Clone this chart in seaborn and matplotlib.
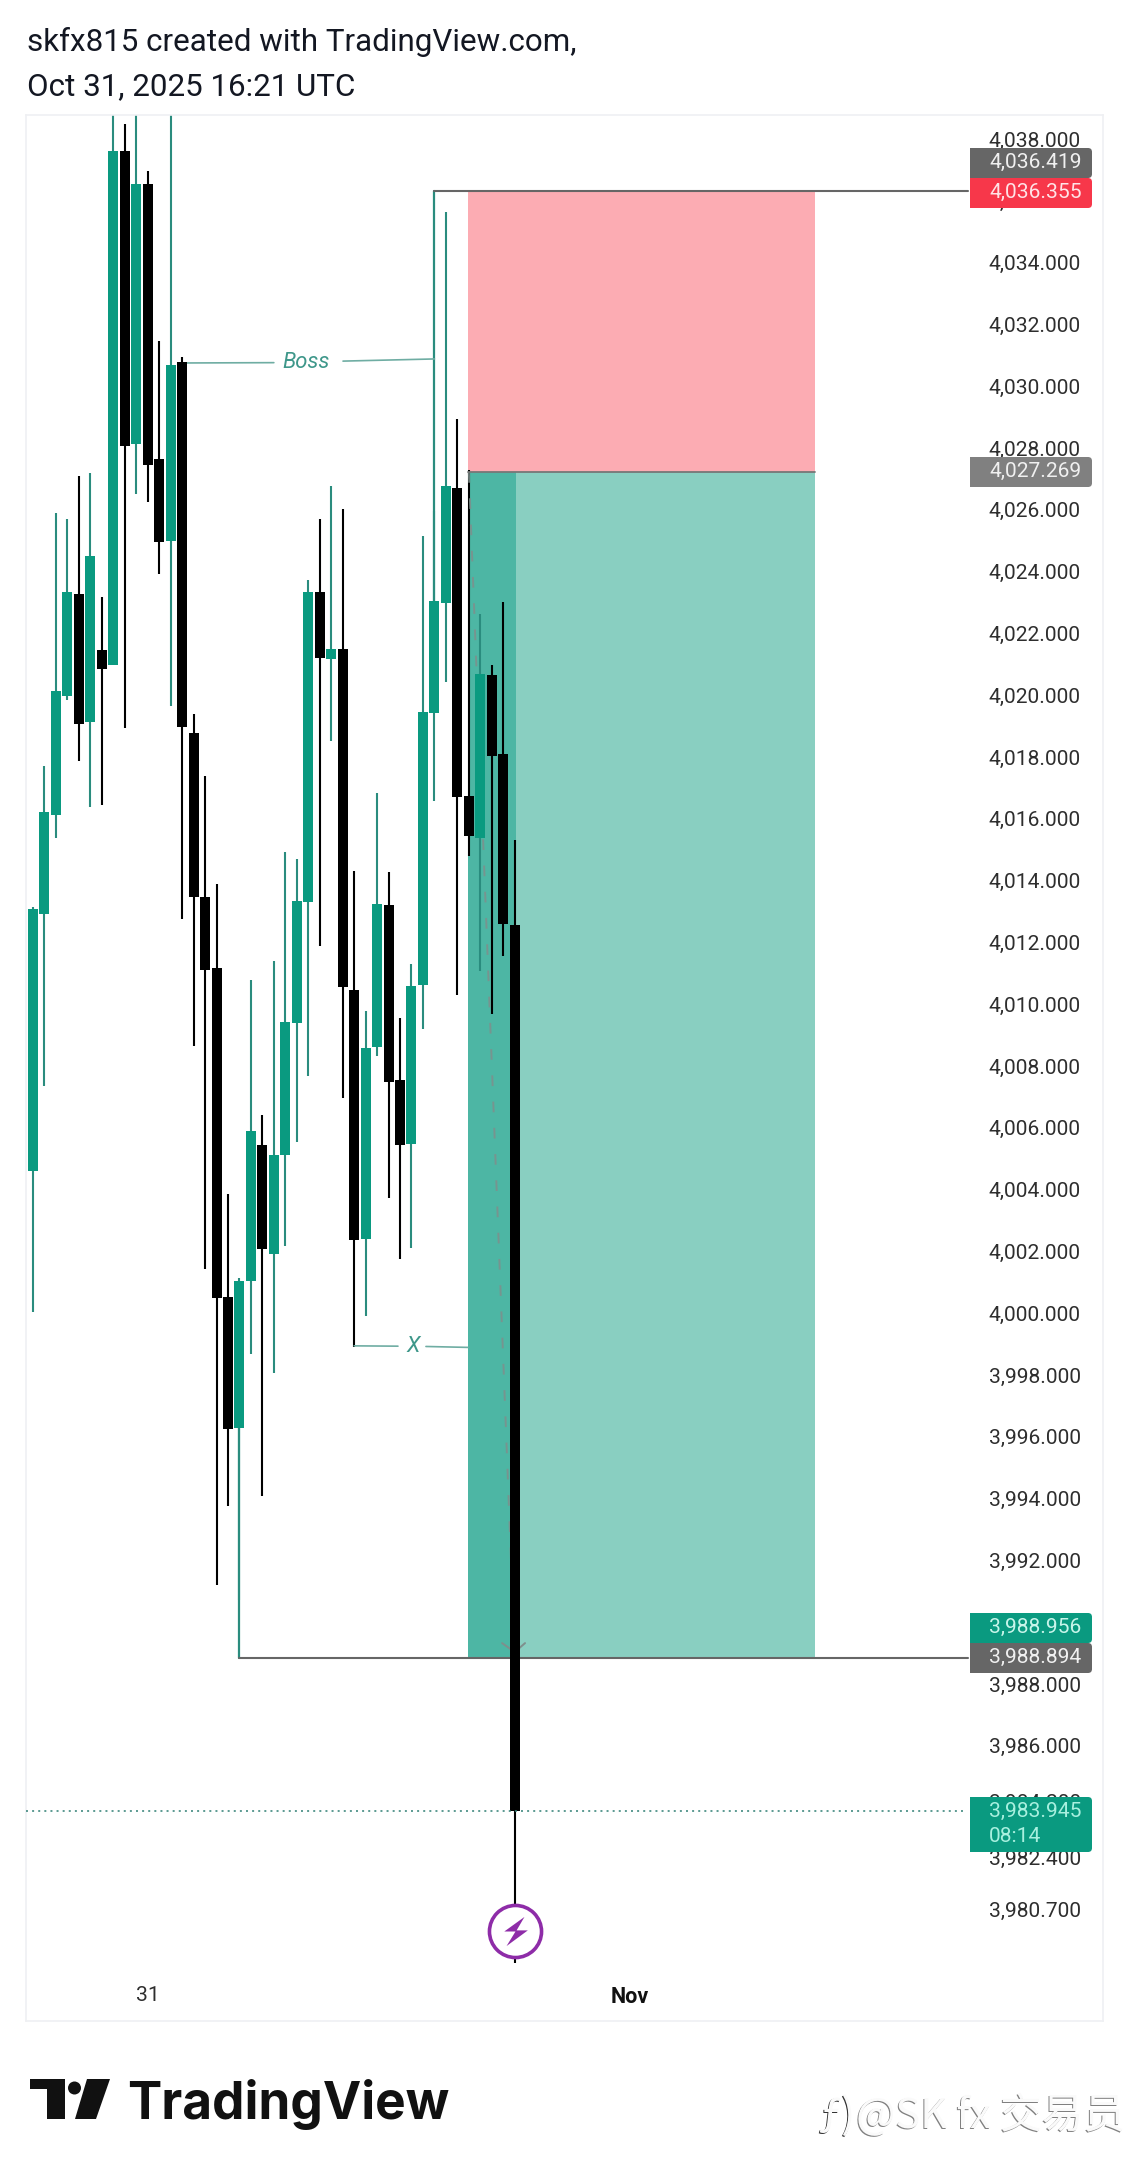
import matplotlib
matplotlib.use("Agg")
import matplotlib.pyplot as plt
import numpy as np
import pandas as pd
import seaborn as sns
from matplotlib.patches import PathPatch, Polygon, Circle
from matplotlib.path import Path
from matplotlib.transforms import Affine2D

# 43 candles of the 31 Oct session (top and bottom of body, high, low, direction)
body_top = [4013.13, 4016.27, 4020.18, 4023.39, 4023.32, 4024.55, 4021.51, 4037.66, 4037.66, 4036.59,
            4036.59, 4027.69, 4030.73, 4030.83, 4018.83, 4013.52, 4011.22, 4000.57, 4001.09, 4005.95,
            4005.49, 4005.17, 4009.47, 4013.39, 4023.39, 4023.39, 4021.54, 4021.54, 4010.51, 4008.63,
            4013.29, 4013.26, 4007.60, 4010.64, 4019.51, 4023.10, 4026.82, 4026.75, 4016.79, 4020.73,
            4020.70, 4018.15, 4012.61]
body_bottom = [4004.65, 4012.97, 4016.17, 4020.02, 4019.12, 4019.18, 4020.90, 4021.03, 4028.11, 4028.18,
               4027.50, 4025.01, 4025.04, 4019.02, 4013.52, 4011.16, 4000.54, 3996.30, 3996.33, 4001.09,
               4002.13, 4001.96, 4005.17, 4009.44, 4013.36, 4021.25, 4021.22, 4010.61, 4002.42, 4002.45,
               4008.66, 4007.53, 4005.49, 4005.52, 4010.67, 4019.47, 4023.03, 4016.75, 4015.49, 4015.43,
               4018.08, 4012.64, 3983.945]
highs = [4013.20, 4017.76, 4025.95, 4025.75, 4027.14, 4027.24, 4023.23, 4039.50, 4038.53, 4039.50,
         4037.01, 4031.51, 4039.50, 4030.99, 4019.44, 4017.43, 4013.94, 4003.91, 4001.18, 4010.83,
         4006.46, 4011.45, 4014.97, 4014.75, 4023.78, 4025.75, 4026.82, 4026.07, 4014.36, 4009.83,
         4016.88, 4014.33, 4009.60, 4011.35, 4025.20, 4026.00, 4035.69, 4028.99, 4027.34, 4022.68,
         4021.03, 4023.07, 4015.36]
lows = [4000.09, 4007.40, 4015.43, 4019.89, 4017.92, 4016.43, 4016.50, 4021.03, 4018.99, 4026.56,
        4026.30, 4023.97, 4019.70, 4012.81, 4008.70, 4001.48, 3991.25, 3993.81, 3990.77, 3998.73,
        3994.13, 3998.11, 4002.22, 4005.59, 4007.73, 4011.93, 4018.57, 4007.01, 3998.96, 3999.96,
        4008.37, 4003.78, 4001.80, 4002.16, 4009.25, 4016.63, 4020.48, 4010.35, 4014.84, 4011.12,
        4009.73, 4011.61, 3979.02]
rising = [1, 1, 1, 1, 0, 1, 0, 1, 0, 1, 0, 0, 1, 0, 0, 0, 0, 0, 1, 1, 0, 1, 1, 1, 1, 0,
          1, 0, 0, 1, 1, 0, 0, 1, 1, 1, 1, 0, 0, 1, 0, 0, 0]

# Price-axis and time-axis labels
y_tick_values = [4038, 4036, 4034, 4032, 4030, 4028, 4026, 4024, 4022, 4020, 4018, 4016, 4014, 4012,
                 4010, 4008, 4006, 4004, 4002, 4000, 3998, 3996, 3994, 3992, 3990, 3988, 3986,
                 3984.2, 3982.4, 3980.7]
x_tick_values = [10, 52]
x_tick_labels = ["31", "Nov"]

# Short-position tool and price levels
stop_price = 4036.355
entry_price = 4027.269
target_price = 3988.894
target_label_price = 3988.956
last_price = 3983.945
stop_marker_price = 4036.419
tool_start, tool_now, tool_end = 37.93, 42.11, 68.2
level_line_end = 81.5

GREEN = "#0A9A80"
WICK_GREEN = "#2A8C7E"
NOTE_COLOR = "#3E978A"
NOTE_LINE = "#6FADA3"
TICK_COLOR = "#2E2E2E"
AXIS_FONT = 15.1
PIXEL_W, PIXEL_H = 1130, 2180

sns.set_theme(style="white")
plt.rcParams["font.family"] = ["Roboto", "DejaVu Sans"]

df = pd.DataFrame({"i": np.arange(len(body_top)), "top": body_top, "bottom": body_bottom,
                   "high": highs, "low": lows, "rising": rising})
df["height"] = df["top"] - df["bottom"]

fig = plt.figure(figsize=(PIXEL_W / 100, PIXEL_H / 100), dpi=100, facecolor="white")
ax = fig.add_axes([26 / PIXEL_W, 1 - 2021 / PIXEL_H, (1103 - 26) / PIXEL_W, (2021 - 115) / PIXEL_H])
px = Affine2D().scale(1, -1).translate(0, PIXEL_H)   # pixel coordinates, origin top-left

# Position tool: stop zone, profit zone, and the elapsed part of the profit zone
ax.fill_between([tool_start, tool_end], entry_price, stop_price, color="#FCACB3", lw=0, zorder=1)
ax.fill_between([tool_start, tool_end], target_price, entry_price, color="#89CFC1", lw=0, zorder=1)
ax.fill_between([tool_start, tool_now], target_price, entry_price, color="#4DB6A4", lw=0, zorder=1.1)

# Wicks and candle bodies
for flag, wick_color in ((1, WICK_GREEN), (0, "black")):
    part = df[df["rising"] == flag]
    ax.vlines(part["i"], part["low"], part["high"], color=wick_color, lw=1.5, zorder=2.5)
    sns.barplot(data=part, x="i", y="height", bottom=part["bottom"].to_numpy(), native_scale=True,
                width=0.872, color=GREEN if flag else "black", saturation=1, errorbar=None,
                linewidth=0, zorder=3, ax=ax)

# Level lines of the swing points
ax.plot([35, 35], [4023.10, stop_price], color=WICK_GREEN, lw=1.6, zorder=2.6)
ax.plot([35, level_line_end], [stop_price, stop_price], color="#666666", lw=1.5, zorder=2.6)
ax.plot([tool_start, tool_end], [entry_price, entry_price], color="#777777", lw=1.3, zorder=2.6)
ax.plot([18, 18], [3996.33, target_price], color=WICK_GREEN, lw=1.6, zorder=2.6)
ax.plot([18, level_line_end], [target_price, target_price], color="#666666", lw=1.5, zorder=2.6)

# Trade path from entry down to target, running behind the candles
ax.plot([38, 42], [entry_price, target_label_price], color="#7F8F8C", lw=1.4,
        linestyle=(0, (5.5, 8)), zorder=2.55, alpha=0.85)
ax.plot([40.9, 42, 42.9], [3989.37, 3989.08, 3989.37], color="#7F8F8C", lw=1.4, zorder=2.8)

# Annotated notes
ax.plot([13.4, 21.0], [4030.80, 4030.81], color=NOTE_LINE, lw=1.2, zorder=2.6)
ax.plot([27.03, 35], [4030.86, 4030.93], color=NOTE_LINE, lw=1.2, zorder=2.6)
ax.text(23.8, 4030.83, "Boss", color=NOTE_COLOR, style="italic", fontsize=15.8, ha="center", va="center")
ax.plot([28, 31.82], [3998.99, 3998.98], color=NOTE_LINE, lw=1.2, zorder=2.6)
ax.plot([34.26, 37.93], [3998.97, 3998.94], color=NOTE_LINE, lw=1.2, zorder=2.6)
ax.text(33.13, 3998.97, "X", color=NOTE_COLOR, style="italic", fontsize=15.8, ha="center", va="center")

# Last-price dotted line
ax.plot([-0.61, level_line_end - 0.2], [last_price, last_price], color="#2F7F74", lw=1.1,
        linestyle=(0, (1.3, 2.7)), zorder=3.5)

# Session-break icon on the last candle
ax.plot([42], [3980.06], marker="o", ms=37.5, mfc="white", mec="#8E2CA8", mew=2.6, zorder=4, clip_on=False)
bolt = Path([(8, 13), (-10, 0), (0, 0), (-8, -13), (11, 1), (1, 1), (8, 13)])
ax.plot([42], [3980.06], marker=bolt, ms=21, mfc="#8E2CA8", mec="#8E2CA8", mew=0, zorder=4.1)

# Axes styling
ax.set_xlim(-0.61, 93.29)
ax.set_ylim(3977.14, 4038.825)
ax.set_axisbelow(True)
ax.yaxis.tick_right()
ax.set_yticks(y_tick_values)
ax.set_yticklabels([f"{v:,.3f}" for v in y_tick_values])
ax.set_xticks(x_tick_values)
ax.set_xticklabels(x_tick_labels)
ax.set_xlabel("")
ax.set_ylabel("")
ax.tick_params(axis="y", length=0, pad=-82.2, labelsize=AXIS_FONT, labelcolor=TICK_COLOR, right=False)
ax.tick_params(axis="x", length=0, pad=-25.5, labelsize=AXIS_FONT, labelcolor=TICK_COLOR, bottom=False)
ax.get_xticklabels()[1].set_fontweight("bold")
ax.get_xticklabels()[1].set_fontsize(15.5)
ax.get_xticklabels()[1].set_color("#111111")
# The price labels sit slightly above their true level
for tick in ax.yaxis.get_major_ticks():
    tick.label2.set_transform(tick.label2.get_transform() + Affine2D().translate(0, 1.5))
for spine in ax.spines.values():
    spine.set_color("#EFF0F3")
    spine.set_linewidth(1.2)


def price_tag(y0, y1, fill, lines, text_color="white"):
    """Price tag with a square left edge and rounded right corners, in pixel coordinates."""
    x0, x1, r = 970, 1092, 4
    verts = [(x0, y0), (x1 - r, y0), (x1, y0), (x1, y0 + r), (x1, y1 - r), (x1, y1), (x1 - r, y1), (x0, y1), (x0, y0)]
    codes = [Path.MOVETO, Path.LINETO, Path.CURVE3, Path.CURVE3, Path.LINETO, Path.CURVE3, Path.CURVE3,
             Path.LINETO, Path.CLOSEPOLY]
    ax.add_patch(PathPatch(Path(verts, codes), transform=px, facecolor=fill, edgecolor="none",
                           zorder=6, clip_on=False))
    for k, line in enumerate(lines):
        ax.text(989, y0 + 14 + k * 25, line, transform=px, color=text_color, fontsize=AXIS_FONT,
                ha="left", va="center", zorder=7, clip_on=False)


price_tag(148, 178, "#666666", [f"{stop_marker_price:,.3f}"], "#F0F0F0")
price_tag(178, 208, "#F7374A", [f"{stop_price:,.3f}"], "#FFE3E6")
price_tag(457, 487, "#808080", [f"{entry_price:,.3f}"], "#F0F0F0")
price_tag(1613, 1643, GREEN, [f"{target_label_price:,.3f}"], "#C8F5EA")
price_tag(1643, 1673, "#666666", [f"{target_price:,.3f}"], "#F0F0F0")
price_tag(1797, 1852, GREEN, [f"{last_price:,.3f}", "08:14"], "#A8F0DF")

# Header
fig.text(27 / PIXEL_W, 1 - 51 / PIXEL_H, "skfx815 created with TradingView.com,", fontsize=22.6,
         color="#131722", ha="left", va="baseline")
fig.text(27 / PIXEL_W, 1 - 95 / PIXEL_H, "Oct 31, 2025 16:21 UTC", fontsize=22.6,
         color="#131722", ha="left", va="baseline")

# Brand mark and wordmark in the footer
for shape in ([(30, 2079), (65, 2079), (65, 2119), (47, 2119), (47, 2089), (30, 2089)],
              [(87, 2079), (110, 2079), (96, 2119), (75, 2119)]):
    fig.add_artist(Polygon(shape, closed=True, transform=px, facecolor="#111111", edgecolor="none"))
fig.add_artist(Circle((74.5, 2088), 6.5, transform=px, facecolor="#111111", edgecolor="none"))
fig.text(127 / PIXEL_W, 1 - 2119 / PIXEL_H, "TradingView", fontsize=37, fontfamily="Inter",
         fontweight="bold", color="#111111", ha="left", va="baseline")

# Embossed publisher mark
cjk = ["Noto Sans CJK SC", "DejaVu Sans"]
for dx, dy, col in ((-1.2, 1.2, "#333333"), (0, 0, "#FAFAFA")):
    fig.text((818 + dx) / PIXEL_W, 1 - (2128 + dy) / PIXEL_H, "ƒ)", fontsize=30, family=cjk, color=col,
             ha="left", va="baseline", style="italic")
for dx, dy, col in ((-1.2, 1.2, "#808080"), (0, 0, "#FAFAFA")):
    fig.text((856 + dx) / PIXEL_W, 1 - (2128 + dy) / PIXEL_H, "@SK fx 交易员", fontsize=30, family=cjk, color=col,
             ha="left", va="baseline")

fig.savefig("out.png", dpi=100, facecolor="white")
